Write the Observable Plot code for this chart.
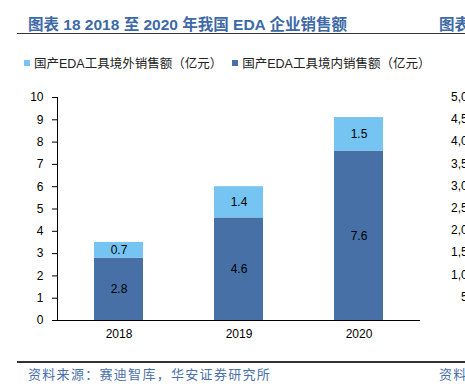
<!DOCTYPE html>
<html>
<head>
<meta charset="utf-8">
<script src="https://cdn.jsdelivr.net/npm/d3@7"></script>
<script src="https://cdn.jsdelivr.net/npm/@observablehq/plot@0.6"></script>
<style>
  html, body { margin: 0; padding: 0; background: #fff; }
  #page { position: relative; width: 465px; height: 386px; overflow: hidden; background: #fff; }
  #page svg { position: absolute; left: 0; top: 0; }
  .abs { position: absolute; white-space: nowrap; }
  .title { font-family: "Liberation Sans", "Noto Sans CJK SC", sans-serif; font-weight: bold; font-size: 15.5px; color: #3d69a6; }
  .legend { font-family: "Liberation Sans", "Noto Sans CJK SC", sans-serif; font-size: 12.5px; color: #222; display: flex; align-items: center; }
  .sw { display: inline-block; width: 6px; height: 6px; margin-right: 4px; }
  .foot { font-family: "Noto Sans CJK SC", sans-serif; font-size: 13px; color: #4a70a8; letter-spacing: 1.3px; }
  .rule { position: absolute; height: 1.5px; background: #333; }
  .rt { font-family: "Liberation Sans", sans-serif; font-size: 12px; color: #000; text-align: right; width: 60px; }
</style>
</head>
<body>
<div id="page"></div>
<script>
const years = ["2018", "2019", "2020"];
const seriesNames = ["国产EDA工具境内销售额（亿元）", "国产EDA工具境外销售额（亿元）"];
const domestic = [2.8, 4.6, 7.6];
const overseas = [0.7, 1.4, 1.5];
const yTicks = [0, 1, 2, 3, 4, 5, 6, 7, 8, 9, 10];
const colors = ["#4670a6", "#76c4f2"];
const titleText = "图表 18 2018 至 2020 年我国 EDA 企业销售额";
const sourceText = "资料来源：赛迪智库，华安证券研究所";
const neighborTicks = ["5,000", "4,500", "4,000", "3,500", "3,000", "2,500", "2,000", "1,500", "1,000", "500"];

const table = [];
years.forEach((yr, i) => table.push({year: yr, series: seriesNames[0], value: domestic[i]}));
years.forEach((yr, i) => table.push({year: yr, series: seriesNames[1], value: overseas[i]}));

const chart = Plot.plot({
  width: 465,
  height: 386,
  marginLeft: 57,
  marginRight: 45,
  marginTop: 97,
  marginBottom: 66,
  style: {fontFamily: "'Liberation Sans', Arial, sans-serif", fontSize: "12px", color: "#000", background: "transparent"},
  x: {domain: years, paddingInner: 0.59, paddingOuter: 0.3, label: null},
  y: {domain: [0, 10], label: null},
  color: {domain: seriesNames, range: colors},
  marks: [
    Plot.barY(table, {x: "year", y: "value", z: "series", fill: "series", order: null}),
    Plot.text(table, Plot.stackY({x: "year", y: "value", z: "series", order: null, text: d => d.value.toFixed(1), fill: "#000", fontSize: 12})),
    Plot.axisY({ticks: yTicks, tickSize: 5, tickPadding: 9, tickFormat: d => String(d), fontSize: 12, label: null}),
    Plot.axisX({tickSize: 0, tickPadding: 9, fontSize: 12, label: null}),
    Plot.frame({anchor: "left", stroke: "#000"}),
    Plot.ruleY([0], {stroke: "#000", strokeWidth: 1})
  ]
});

const page = document.getElementById("page");
page.appendChild(chart);

function addDiv(cls, text, left, top, extra) {
  const d = document.createElement("div");
  d.className = "abs " + cls;
  d.textContent = text;
  d.style.left = left + "px";
  d.style.top = top + "px";
  if (extra) Object.assign(d.style, extra);
  page.appendChild(d);
  return d;
}

addDiv("title", titleText, 28, 12);
addDiv("title", "图表", 439, 12);
const r1 = document.createElement("div"); r1.className = "rule"; r1.style.left = "17px"; r1.style.top = "32.5px"; r1.style.width = "448px"; page.appendChild(r1);

// legend
const leg = document.createElement("div");
leg.className = "abs legend";
leg.style.left = "24px"; leg.style.top = "53px";
[1, 0].forEach((k, j) => {
  const sw = document.createElement("span"); sw.className = "sw"; sw.style.background = colors[k];
  if (j === 1) sw.style.marginLeft = "10px";
  const tx = document.createElement("span"); tx.textContent = seriesNames[k];
  leg.appendChild(sw); leg.appendChild(tx);
});
page.appendChild(leg);

// neighbor chart fragments
neighborTicks.forEach((t, i) => {
  addDiv("rt", t, 421, 90 + i * 22.2);
});

const r2 = document.createElement("div"); r2.className = "rule"; r2.style.left = "17px"; r2.style.top = "361px"; r2.style.width = "448px"; page.appendChild(r2);
addDiv("foot", sourceText, 28, 364);
addDiv("foot", "资料", 439, 364);
</script>
</body>
</html>
